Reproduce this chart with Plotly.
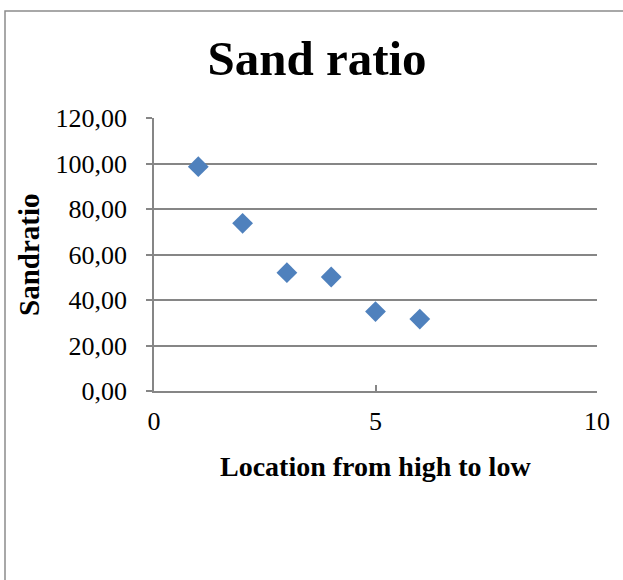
import plotly.graph_objects as go

location = [1, 2, 3, 4, 5, 6]
sand_ratio = [98.6, 73.7, 52.0, 50.1, 34.9, 31.6]
y_ticks = [0, 20, 40, 60, 80, 100, 120]
x_ticks = [0, 5, 10]

W, H = 623, 580
L, R, T, B = 154, 597, 118, 391
FONT = "Liberation Serif"

fig = go.Figure(go.Scatter(
    x=location, y=sand_ratio, mode="markers",
    marker=dict(symbol="diamond", size=16, color="#4F81BD",
                line=dict(width=0)),
    showlegend=False, hoverinfo="x+y",
))

pw, ph = R - L, B - T
def px_x(p):
    return (p - L) / pw
def px_y(p):
    return (B - p) / ph

fig.update_layout(
    width=W, height=H,
    margin=dict(l=L, r=W - R, t=T, b=H - B, pad=0),
    plot_bgcolor="white", paper_bgcolor="white",
    separators=", ",
    font=dict(family=FONT, size=26, color="black"),
    title=dict(text="<b>Sand ratio</b>", x=317 / W, xanchor="center",
               xref="container", yref="container", y=1 - 58 / H,
               yanchor="middle", font=dict(family=FONT, size=49, color="black")),
    xaxis=dict(range=[0, 10], tickvals=x_ticks, showgrid=False,
               showline=True, linecolor="#868686", linewidth=1.5,
               ticks="inside", ticklen=6, tickcolor="#868686", tickwidth=1.5,
               ticklabelstandoff=6,
               zeroline=False, tickfont=dict(family=FONT, size=26)),
    yaxis=dict(range=[0, 120], tickvals=y_ticks, tickformat=".2f",
               showgrid=True, gridcolor="#868686", gridwidth=1.5,
               showline=True, linecolor="#868686", linewidth=1.5,
               ticks="outside", ticklen=6, tickcolor="#868686", tickwidth=1.5,
               ticklabelstandoff=14,
               zeroline=False, tickfont=dict(family=FONT, size=26)),
    annotations=[
        dict(text="<b>Location from high to low</b>", xref="paper", yref="paper",
             x=px_x(375.5), y=px_y(466), xanchor="center", yanchor="middle",
             showarrow=False, font=dict(family=FONT, size=28, color="black")),
        dict(text="<b>Sandratio</b>", xref="paper", yref="paper",
             x=px_x(29), y=px_y(255), xanchor="center", yanchor="middle",
             textangle=-90, showarrow=False,
             font=dict(family=FONT, size=29, color="black")),
    ],
    shapes=[dict(type="rect", xref="paper", yref="paper",
                 x0=px_x(5), x1=px_x(640), y0=px_y(11), y1=px_y(600),
                 line=dict(color="#8c8c8c", width=1.5), fillcolor="rgba(0,0,0,0)",
                 layer="below")],
)

fig.write_html("out.html")
